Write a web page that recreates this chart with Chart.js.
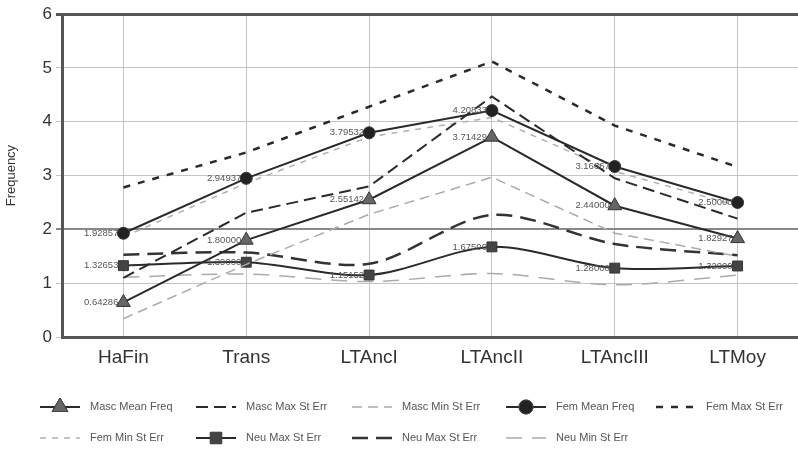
<!DOCTYPE html>
<html>
<head>
<meta charset="utf-8">
<script src="https://cdn.jsdelivr.net/npm/chart.js@4"></script>
<style>
  html, body { margin: 0; padding: 0; background: #fff; overflow: hidden; }
  #wrap { width: 808px; height: 456px; }
</style>
</head>
<body>
<div id="wrap"><canvas id="freqChart"></canvas></div>
<script>
// values
const categories = ['HaFin', 'Trans', 'LTAncI', 'LTAncII', 'LTAncIII', 'LTMoy'];
const mascMean = [0.64286, 1.80000, 2.55142, 3.71429, 2.44000, 1.82927];
const mascMax  = [1.10, 2.31, 2.80, 4.47, 2.95, 2.20];
const mascMin  = [0.34, 1.35, 2.28, 2.97, 1.93, 1.50];
const femMean  = [1.92857, 2.94937, 3.79532, 4.20833, 3.16867, 2.50000];
const femMax   = [2.78, 3.43, 4.28, 5.12, 3.93, 3.16];
const femMin   = [1.86, 2.86, 3.72, 4.08, 3.08, 2.44];
const neuMean  = [1.32653, 1.39000, 1.15152, 1.67500, 1.28000, 1.32000];
const neuMax   = [1.53, 1.57, 1.36, 2.27, 1.73, 1.52];
const neuMin   = [1.11, 1.17, 1.03, 1.18, 0.97, 1.15];

const FONT = '"Liberation Sans", Arial, sans-serif';

function meanSet(label, data, style, fill, radius, tension) {
    return {
        label: label, data: data, borderColor: '#2a2a2a', borderWidth: 2,
        pointStyle: style, pointRadius: radius, pointBackgroundColor: fill,
        pointBorderColor: '#333', pointBorderWidth: 1, tension: tension || 0,
        showLabels: true
    };
}
function errSet(label, data, color, dash, width, tension) {
    return {
        label: label, data: data, borderColor: color, borderWidth: width,
        borderDash: dash, pointRadius: 0, tension: tension || 0
    };
}

// value labels next to the mean points
const valueLabels = {
    id: 'valueLabels',
    afterDatasetsDraw(chart) {
        const ctx = chart.ctx;
        ctx.save();
        ctx.font = '9.5px ' + FONT;
        ctx.fillStyle = '#555';
        ctx.textAlign = 'right';
        ctx.textBaseline = 'middle';
        chart.data.datasets.forEach((ds, i) => {
            if (!ds.showLabels) return;
            chart.getDatasetMeta(i).data.forEach((pt, j) => {
                ctx.fillText(ds.data[j].toFixed(5), pt.x - 5, pt.y);
            });
        });
        ctx.restore();
    }
};

// grid-like legend at the bottom, two rows
const gridLegend = {
    id: 'gridLegend',
    afterDraw(chart) {
        const ctx = chart.ctx;
        const cols = [40, 196, 352, 506, 656];
        const rows = [407, 438];
        ctx.save();
        ctx.font = '11px ' + FONT;
        ctx.textBaseline = 'middle';
        chart.data.datasets.forEach((ds, i) => {
            const x = cols[i % 5], y = rows[Math.floor(i / 5)];
            ctx.save();
            ctx.strokeStyle = ds.borderColor;
            ctx.lineWidth = ds.borderWidth;
            ctx.setLineDash(ds.borderDash || []);
            ctx.beginPath();
            ctx.moveTo(x, y);
            ctx.lineTo(x + 40, y);
            ctx.stroke();
            ctx.restore();
            if (ds.pointRadius > 0) {
                Chart.helpers.drawPoint(ctx, {
                    pointStyle: ds.pointStyle, radius: ds.pointRadius + 1,
                    borderWidth: 1, rotation: 0
                }, x + 20, y);
                ctx.fillStyle = ds.pointBackgroundColor;
                ctx.strokeStyle = '#444';
                ctx.fill();
                ctx.stroke();
            }
            ctx.fillStyle = '#555';
            ctx.fillText(ds.label, x + 50, y);
        });
        ctx.restore();
    }
};

new Chart(document.getElementById('freqChart'), {
    type: 'line',
    data: {
        labels: categories,
        datasets: [
            meanSet('Masc Mean Freq', mascMean, 'triangle', '#666', 8),
            errSet('Masc Max St Err', mascMax, '#2a2a2a', [12, 6], 2),
            errSet('Masc Min St Err', mascMin, '#aaa', [10, 6], 1.5),
            meanSet('Fem Mean Freq', femMean, 'circle', '#222', 6),
            errSet('Fem Max St Err', femMax, '#2a2a2a', [7, 8], 2.5),
            errSet('Fem Min St Err', femMin, '#b0b0b0', [6, 6], 1.5),
            meanSet('Neu Max St Err', neuMean, 'rect', '#444', 7, 0.3),
            errSet('Neu Max St Err', neuMax, '#333', [16, 8], 2.5, 0.3),
            errSet('Neu Min St Err', neuMin, '#aaa', [16, 10], 1.5, 0.3)
        ]
    },
    options: {
        responsive: true,
        maintainAspectRatio: false,
        animation: false,
        layout: { padding: { top: 14, bottom: 85, right: 0, left: 0 } },
        plugins: { legend: { display: false }, tooltip: { enabled: false } },
        scales: {
            x: {
                offset: true,
                afterFit: s => { s.height = 34; s.paddingLeft = 0; s.paddingRight = 0; },
                grid: { offset: false, color: '#c4c4c4', lineWidth: 1, drawTicks: false },
                border: { color: '#555', width: 3 },
                ticks: { color: '#333', font: { family: FONT, size: 19 }, padding: 9 }
            },
            y: {
                min: 0, max: 6,
                afterFit: s => { s.width = 62; },
                ticks: { stepSize: 1, color: '#333', font: { family: FONT, size: 17 }, padding: 4 },
                grid: {
                    tickLength: 6,
                    color: c => c.tick.value === 6 ? '#555' : (c.tick.value === 2 ? '#888' : '#c4c4c4'),
                    lineWidth: c => c.tick.value === 6 ? 3 : (c.tick.value === 2 ? 2 : 1)
                },
                border: { color: '#555', width: 3 },
                title: { display: true, text: 'Frequency', color: '#333', font: { family: FONT, size: 13 } }
            }
        }
    },
    plugins: [valueLabels, gridLegend]
});
</script>
</body>
</html>
